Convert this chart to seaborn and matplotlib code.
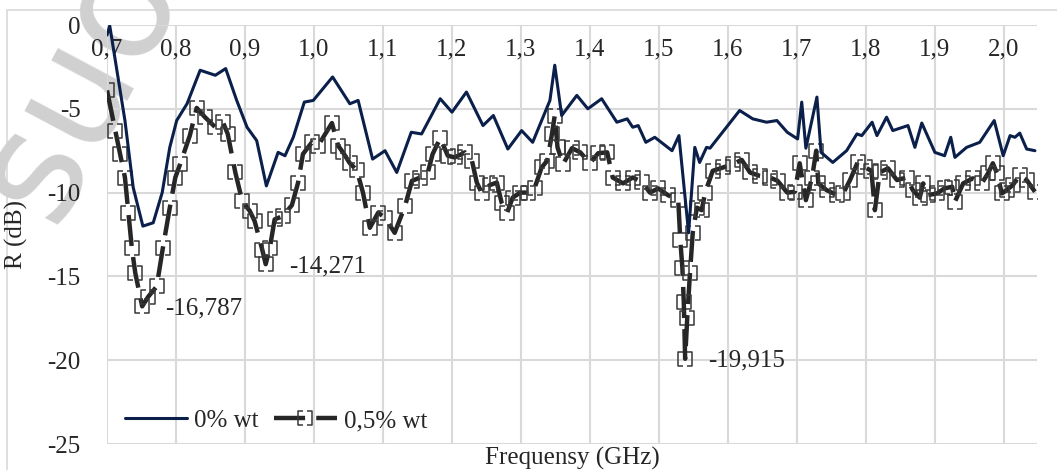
import matplotlib
matplotlib.use("Agg")
import matplotlib.pyplot as plt
import seaborn as sns
from matplotlib.path import Path
from matplotlib.patches import Rectangle

# 0% wt (solid navy line)
freq_0 = [0.700, 0.704, 0.726, 0.738, 0.752, 0.767, 0.780, 0.791, 0.801, 0.816,
          0.835, 0.857, 0.872, 0.888, 0.903, 0.917, 0.931, 0.948, 0.958, 0.970,
          0.986, 0.999, 1.027, 1.052, 1.064, 1.085, 1.103, 1.120, 1.141, 1.156,
          1.183, 1.200, 1.221, 1.245, 1.260, 1.281, 1.301, 1.317, 1.342, 1.349,
          1.359, 1.381, 1.397, 1.417, 1.439, 1.454, 1.462, 1.470, 1.481, 1.494,
          1.519, 1.529, 1.543, 1.552, 1.559, 1.569, 1.574, 1.617, 1.636, 1.656,
          1.671, 1.686, 1.701, 1.707, 1.713, 1.729, 1.735, 1.752, 1.772, 1.787,
          1.794, 1.809, 1.816, 1.830, 1.839, 1.861, 1.871, 1.881, 1.900, 1.914,
          1.923, 1.929, 1.946, 1.965, 1.986, 1.999, 2.009, 2.016, 2.023, 2.033,
          2.045]
r_0 = [-0.6, -0.05, -5.7, -9.7, -12.0, -11.8, -10.0, -7.3, -5.7, -4.7,
       -2.7, -3.0, -2.6, -4.5, -6.1, -6.9, -9.6, -7.6, -7.8, -6.7,
       -4.6, -4.5, -3.1, -4.7, -4.5, -8.0, -7.5, -8.8, -6.4, -6.5,
       -4.4, -5.2, -4.0, -6.0, -5.4, -7.4, -6.3, -7.0, -4.5, -2.4,
       -5.4, -4.2, -5.0, -4.4, -5.8, -5.6, -6.1, -6.0, -7.0, -6.7,
       -7.5, -6.6, -12.4, -7.3, -8.2, -7.3, -7.35, -5.1, -5.6, -5.8,
       -5.7, -6.4, -6.8, -4.6, -7.35, -4.3, -7.6, -8.2, -7.5, -6.5,
       -6.6, -5.8, -6.6, -5.5, -6.3, -6.0, -7.3, -5.85, -7.6, -7.8,
       -6.7, -7.9, -7.3, -7.0, -5.7, -7.8, -6.6, -6.7, -6.45, -7.4,
       -7.5]

# 0,5% wt (dashed black line with markers)
freq_05 = [0.700, 0.712, 0.719, 0.726, 0.731, 0.736, 0.741, 0.751, 0.760, 0.772,
           0.781, 0.791, 0.799, 0.806, 0.820, 0.830, 0.842, 0.857, 0.868, 0.875,
           0.886, 0.896, 0.907, 0.914, 0.925, 0.930, 0.936, 0.943, 0.955, 0.968,
           0.977, 0.984, 0.997, 1.006, 1.026, 1.035, 1.042, 1.052, 1.062, 1.071,
           1.081, 1.093, 1.103, 1.117, 1.132, 1.142, 1.154, 1.165, 1.172, 1.183,
           1.194, 1.204, 1.219, 1.229, 1.236, 1.243, 1.255, 1.265, 1.272, 1.280,
           1.288, 1.299, 1.310, 1.320, 1.330, 1.338, 1.345, 1.349, 1.353, 1.361,
           1.374, 1.386, 1.400, 1.412, 1.425, 1.433, 1.448, 1.462, 1.475, 1.487,
           1.499, 1.513, 1.528, 1.531, 1.534, 1.536, 1.538, 1.541, 1.545, 1.549,
           1.555, 1.562, 1.567, 1.578, 1.593, 1.607, 1.620, 1.632, 1.646, 1.661,
           1.672, 1.686, 1.697, 1.704, 1.713, 1.722, 1.728, 1.731, 1.743, 1.758,
           1.767, 1.777, 1.788, 1.799, 1.808, 1.813, 1.820, 1.832, 1.845, 1.859,
           1.868, 1.878, 1.883, 1.890, 1.903, 1.914, 1.925, 1.929, 1.941, 1.955,
           1.968, 1.977, 1.984, 1.990, 1.997, 2.004, 2.013, 2.023, 2.033, 2.045]
r_05 = [-3.9, -6.3, -7.7, -9.1, -11.2, -13.3, -14.8, -16.787, -16.2, -15.6,
        -13.3, -10.9, -9.1, -8.3, -6.6, -4.95, -5.5, -6.1, -5.8, -6.5,
        -8.8, -10.5, -11.1, -11.7, -13.4, -14.271, -13.3, -11.6, -11.4, -10.75,
        -9.4, -7.7, -7.0, -7.2, -5.85, -7.2, -7.6, -8.25, -8.65, -10.0,
        -12.1, -11.2, -11.5, -12.4, -10.8, -9.3, -9.1, -8.8, -7.7, -6.75,
        -7.8, -7.9, -7.6, -8.1, -9.4, -10.0, -9.55, -9.4, -10.6, -11.2,
        -10.3, -10.0, -10.0, -9.7, -8.5, -8.1, -6.5, -5.4, -7.3, -8.3,
        -7.35, -7.6, -8.25, -7.65, -7.6, -9.1, -9.45, -9.1, -9.35, -10.0,
        -9.75, -10.15, -10.45, -12.85, -14.5, -16.5, -19.915, -17.5, -14.8, -12.4,
        -10.9, -11.05, -10.0, -8.7, -8.5, -8.3, -8.05, -8.8, -9.0, -9.1,
        -9.3, -10.0, -9.95, -8.25, -10.45, -9.1, -7.5, -9.45, -9.85, -10.15,
        -10.05, -9.25, -8.2, -8.5, -8.7, -11.05, -8.8, -8.55, -9.25, -9.1,
        -9.85, -10.3, -9.45, -10.15, -10.05, -9.75, -9.65, -10.55, -9.45, -9.15,
        -9.45, -8.85, -8.25, -8.85, -10.05, -9.85, -9.55, -8.95, -9.25, -9.95]

min_freq = [0.751, 0.930, 1.538]
min_vals = [-16.787, -14.271, -19.915]
min_labels = ["-16,787", "-14,271", "-19,915"]

x_ticks = [0.7, 0.8, 0.9, 1.0, 1.1, 1.2, 1.3, 1.4, 1.5, 1.6, 1.7, 1.8, 1.9, 2.0]
y_ticks = [0, -5, -10, -15, -20, -25]

sns.set_style("white")
plt.rcParams["font.family"] = ["Liberation Serif", "DejaVu Serif"]

fig = plt.figure(figsize=(10.57, 4.70), dpi=100)
ax = fig.add_axes([107 / 1057, 1 - 444 / 470, 930 / 1057, 419 / 470])
ax.patch.set_visible(False)

# outer chart frame
fig.patches.append(Rectangle((7 / 1057, -0.1), 1.2, 1 - 10 / 470 + 0.1, transform=fig.transFigure,
                             fill=False, edgecolor="#d9d9d9", lw=1.2, zorder=-2))

# watermark (behind the chart)
fig.text(0.075, 0.82, "suo", fontsize=112, color="#d0d0d0", rotation=62,
         ha="center", va="center", family="DejaVu Sans", zorder=-1)

# bracket-like dashed square marker
verts = [(-0.25, 1), (-1, 1), (-1, -1), (-0.25, -1),
         (0.25, 1), (1, 1), (1, -1), (0.25, -1)]
codes = [Path.MOVETO, Path.LINETO, Path.LINETO, Path.LINETO,
         Path.MOVETO, Path.LINETO, Path.LINETO, Path.LINETO]
sq = Path(verts, codes)

sns.lineplot(x=freq_0, y=r_0, ax=ax, color="#0b1f4b", lw=2.2, label="0% wt",
             sort=False, estimator=None, zorder=4)
sns.lineplot(x=freq_05, y=r_05, ax=ax, color="#262626", lw=3.2, label="0,5% wt",
             sort=False, estimator=None, marker=sq, markersize=10,
             markerfacecolor="none", markeredgecolor="#383838", markeredgewidth=1.1,
             zorder=3)
ax.lines[-1].set_dashes((7, 2.5))

for xv, yv, t in zip(min_freq, min_vals, min_labels):
    ax.annotate(t, xy=(xv, yv), xytext=(23, -2), textcoords="offset pixels",
                fontsize=18, va="center", ha="left", color="#262626")

ax.set_xlim(0.7, 2.048)
ax.set_ylim(-25, 0)
ax.set_xticks(x_ticks)
ax.set_xticklabels([f"{v:.1f}".replace(".", ",") for v in x_ticks])
ax.set_yticks(y_ticks)
ax.set_yticklabels([str(v) for v in y_ticks])
ax.tick_params(axis="both", length=0, labelsize=18, colors="#262626")
ax.tick_params(axis="x", pad=10)
ax.tick_params(axis="y", pad=19)
ax.spines["bottom"].set_position(("data", 0))
for s in ax.spines.values():
    s.set_visible(False)
ax.grid(True, color="#d9d9d9", lw=1.5)
ax.set_axisbelow(True)
ax.set_xlabel("")
ax.set_ylabel("R (dB)", fontsize=18, color="#262626", labelpad=14)
ax.text(0.5, -0.035, "Frequensy (GHz)", transform=ax.transAxes, ha="center",
        va="center", fontsize=18, color="#262626")

ax.legend(loc="center left", bbox_to_anchor=(0.0, 0.055), frameon=False,
          ncol=2, fontsize=18, handlelength=2.5, columnspacing=0.6,
          handletextpad=0.3, borderaxespad=0.3)

fig.savefig("out.png", dpi=100)
